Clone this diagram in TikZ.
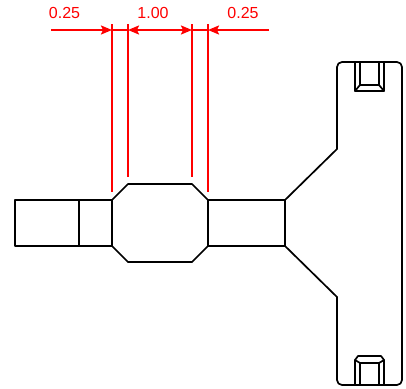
\documentclass[tikz,border=0pt]{standalone}
\usepackage{fontspec}
\setmainfont{Liberation Sans}
\usetikzlibrary{arrows.meta}
\tikzset{
  part/.style={draw=black,line width=1.7pt,line join=round,line cap=round},
  dim/.style={draw=red,line width=1.9pt},
  dimtip/.style={dim,-{Stealth[length=11pt,width=9pt,inset=2pt]}},
  dimtext/.style={text=red,font=\fontsize{16}{18}\selectfont,inner sep=0pt,anchor=center}
}
\begin{document}
\begin{tikzpicture}[x=1pt,y=-1pt]
\useasboundingbox (0,0) rectangle (406,388);
% body
\draw[part] (112,200) -- (128,184) -- (192,184) -- (208,200) -- (208,246) -- (192,262) -- (128,262) -- (112,246) -- cycle;
\draw[part] (112,200) -- (15,200) -- (15,246) -- (112,246);
\draw[part] (79,200) -- (79,246);
\draw[part] (208,200) -- (285,200) -- (285,246) -- (208,246);
% plate
\draw[part] (285,200) -- (337,149) -- (337,100);
\draw[part] (337,297) -- (285,246);
\draw[part,rounded corners=5pt] (337,297) -- (337,385) -- (402,385) -- (402,62) -- (337,62) -- (337,100);
% top pocket
\draw[part] (355,62) -- (355,91) -- (384,91) -- (384,62);
\draw[part] (360,62) -- (360,85) -- (379,85) -- (379,62);
\draw[part] (355,91) -- (360,85) (384,91) -- (379,85);
% bottom pocket
\draw[part] (355,385) -- (355,360) -- (358,356) -- (381,356) -- (384,360) -- (384,385);
\draw[part] (360,385) -- (360,363) -- (379,363) -- (379,385);
\draw[part] (355,360) -- (360,363) (384,360) -- (379,363);
% dimensions
\draw[dim] (112,24) -- (112,192);
\draw[dim] (128,24) -- (128,177);
\draw[dim] (192,24) -- (192,177);
\draw[dim] (208,24) -- (208,192);
\draw[dimtip] (51,30) -- (112,30);
\draw[dim] (112,30) -- (128,30);
\draw[dimtip] (160,30) -- (128,30);
\draw[dimtip] (160,30) -- (192,30);
\draw[dim] (192,30) -- (208,30);
\draw[dimtip] (269,30) -- (208,30);
\node[dimtext] (a) at (64.5,12.5) {0.25};
\node[dimtext] (b) at (153,12.5) {1.00};
\node[dimtext] (c) at (243,12.5) {0.25};
\end{tikzpicture}
\end{document}
